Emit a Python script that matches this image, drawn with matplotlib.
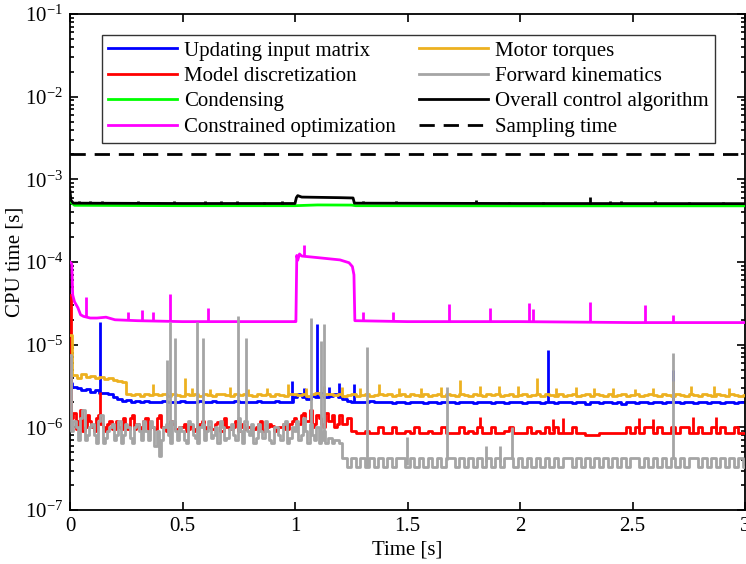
import matplotlib
matplotlib.use("Agg")
import matplotlib.pyplot as plt
import numpy as np
from matplotlib.ticker import LogLocator, LogFormatterMathtext, NullFormatter

plt.rcParams["font.family"] = "Liberation Serif"
plt.rcParams["mathtext.fontset"] = "custom"
plt.rcParams["mathtext.rm"] = "Liberation Serif"
plt.rcParams["mathtext.it"] = "Liberation Serif:italic"
plt.rcParams["font.size"] = 15

# sample instants of the dense series [s], one every 20 ms
t_grid = np.round(np.arange(0, 3.0001, 0.02), 2)
# extra in-between samples for the noisy start (0.01 ... 1.19 s)
t_mid = np.round(np.arange(0.01, 1.2, 0.02), 2)

# CPU times in microseconds
update_input = [
    3.4, 3.1, 3.0, 2.8, 2.9, 2.7, 2.8, 2.6, 2.6, 2.5,
    2.3, 2.2, 2.1, 2.15, 2.05, 2.1, 2.0, 2.1, 2.05, 2.0,
    2.05, 2.1, 2.0, 2.05, 2.0, 2.1, 2.05, 2.0, 2.05, 2.1,
    2.0, 2.05, 2.1, 2.0, 2.05, 2.0, 2.05, 2.1, 2.0, 2.05,
    2.05, 2.0, 2.1, 2.05, 2.0, 2.05, 2.1, 2.0, 2.05, 2.0,
    2.3, 2.5, 2.3, 2.2, 2.4, 2.3, 2.6, 2.3, 2.4, 2.5,
    2.3, 2.2, 2.1, 2.05, 2.0, 2.05, 2.0, 2.1, 2.0, 2.05,
    2.0, 2.05, 1.95, 2.05, 2.0, 1.95, 2.05, 2.0, 2.0, 1.95,
    2.05, 2.0, 1.95, 2.05, 2.0, 2.0, 1.95, 2.05, 2.0, 2.0,
    1.95, 2.05, 2.0, 2.0, 1.95, 2.05, 2.0, 1.95, 2.0, 2.05,
    2.0, 1.95, 2.05, 2.0, 2.0, 1.95, 2.05, 2.0, 1.95, 2.0,
    2.05, 2.0, 1.95, 2.0, 2.05, 1.9, 2.0, 2.05, 1.95, 2.0,
    2.0, 1.95, 2.05, 1.9, 2.0, 2.0, 1.95, 2.05, 2.0, 1.95,
    2.05, 2.0, 1.95, 2.0, 2.05, 2.0, 1.95, 2.0, 2.05, 1.95,
    2.0, 2.05, 1.95, 2.0, 2.0, 1.95, 2.05, 2.0, 1.95, 2.0,
    2.0]
update_spike_t = [0.133, 0.985, 1.04, 1.096, 1.15, 1.197, 1.262, 2.123, 2.68]
update_spike_v = [19, 3.6, 3.0, 18, 3.1, 3.4, 3.3, 8.6, 5.0]

model_disc = [
    40, 1.5, 1.2, 0.9, 1.4, 1.0, 1.3, 1.1, 0.9, 1.2,
    0.95, 1.0, 1.3, 0.95, 1.4, 1.1, 0.95, 1.3, 1.0, 0.95,
    1.4, 1.0, 0.95, 1.1, 0.95, 1.0, 0.9, 1.05, 0.95, 1.1,
    0.95, 1.0, 0.95, 1.15, 0.9, 1.0, 0.95, 1.2, 1.0, 0.95,
    1.0, 0.95, 1.1, 0.9, 1.0, 1.05, 0.95, 1.0, 0.95, 1.1,
    1.3, 1.1, 1.5, 1.2, 1.0, 1.4, 1.1, 1.5, 1.2, 1.0,
    1.4, 1.1, 1.3, 0.9, 0.85, 0.85, 0.9, 0.85, 0.85, 1.0,
    0.85, 0.85, 1.0, 0.85, 0.85, 0.9, 0.85, 1.0, 0.85, 0.85,
    0.9, 0.85, 0.85, 1.0, 0.85, 0.85, 0.85, 1.0, 0.85, 0.9,
    0.85, 1.0, 0.85, 0.85, 1.0, 0.85, 0.85, 0.9, 1.0, 0.85,
    0.85, 0.85, 1.0, 0.85, 0.9, 0.85, 1.0, 0.85, 1.0, 0.85,
    0.85, 0.85, 1.0, 0.85, 0.85, 0.8, 0.8, 0.8, 0.85, 0.85,
    0.85, 0.85, 0.85, 0.85, 1.0, 0.85, 1.0, 0.85, 1.0, 1.0,
    0.85, 1.0, 0.85, 0.85, 1.0, 0.85, 1.0, 1.0, 0.85, 0.85,
    1.0, 0.85, 0.85, 1.0, 0.85, 1.0, 0.85, 0.85, 1.0, 0.85,
    0.85]
model_disc_mid = [
    1.3, 0.95, 1.6, 1.0, 1.2, 0.9, 1.4, 1.0, 1.1, 0.95,
    1.2, 0.95, 1.0, 1.3, 0.95, 1.0, 1.2, 0.95, 1.0, 1.3,
    1.0, 0.9, 1.2, 0.95, 1.0, 1.1, 0.95, 0.9, 1.0, 1.2,
    1.0, 0.95, 1.1, 0.9, 1.3, 0.95, 1.0, 0.9, 1.1, 1.0,
    0.95, 1.0, 1.2, 0.95, 1.1, 0.9, 1.0, 1.1, 0.95, 1.2,
    1.1, 1.4, 1.2, 1.6, 1.1, 1.3, 1.0, 1.2, 1.4, 1.1]
model_spike_t = [0.133, 1.822, 2.148, 2.19, 2.53, 2.59, 2.77, 2.87]
model_spike_v = [2.7, 1.35, 1.25, 1.3, 1.3, 1.25, 1.35, 1.35]

motor_torques = [
    13, 4.3, 4.0, 4.4, 4.1, 4.2, 3.9, 4.1, 3.8, 3.9,
    3.7, 3.6, 3.5, 2.5, 2.45, 2.5, 2.4, 2.55, 2.45, 2.5,
    2.45, 2.5, 2.4, 2.55, 2.45, 2.4, 2.5, 2.45, 2.55, 2.4,
    2.5, 2.45, 2.4, 2.5, 2.55, 2.45, 2.4, 2.5, 2.45, 2.5,
    2.45, 2.4, 2.5, 2.45, 2.55, 2.4, 2.5, 2.45, 2.4, 2.5,
    2.5, 2.45, 2.55, 2.4, 2.5, 2.6, 2.45, 2.5, 2.55, 2.45,
    2.5, 2.4, 2.45, 2.5, 2.4, 2.45, 2.5, 2.4, 2.45, 2.55,
    2.45, 2.5, 2.4, 2.45, 2.55, 2.4, 2.5, 2.45, 2.4, 2.5,
    2.4, 2.45, 2.5, 2.4, 2.55, 2.45, 2.4, 2.5, 2.45, 2.4,
    2.5, 2.45, 2.4, 2.5, 2.45, 2.55, 2.4, 2.45, 2.5, 2.4,
    2.45, 2.5, 2.4, 2.45, 2.5, 2.4, 2.55, 2.45, 2.4, 2.5,
    2.4, 2.45, 2.5, 2.4, 2.45, 2.5, 2.4, 2.5, 2.45, 2.4,
    2.5, 2.4, 2.45, 2.55, 2.4, 2.45, 2.5, 2.4, 2.45, 2.5,
    2.45, 2.4, 2.5, 2.45, 2.4, 2.55, 2.45, 2.4, 2.5, 2.45,
    2.4, 2.5, 2.45, 2.4, 2.5, 2.45, 2.4, 2.5, 2.45, 2.4,
    2.45]
motor_spike_t = [0.37, 0.51, 0.54, 0.62, 0.71, 0.79, 0.874, 0.97, 1.05, 1.13,
                 1.21, 1.29, 1.373, 1.46, 1.56, 1.647, 1.735, 1.822, 1.905, 1.992,
                 2.075, 2.16, 2.25, 2.33, 2.415, 2.51, 2.59, 2.68, 2.762, 2.86, 2.93]
motor_spike_v = [3.3, 4.0, 3.0, 2.9, 3.1, 2.9, 3.0, 3.3, 3.0, 3.2,
                 3.1, 3.0, 3.3, 3.0, 3.0, 3.1, 3.7, 3.2, 3.2, 3.2,
                 3.9, 3.0, 3.1, 3.0, 3.0, 2.9, 3.0, 3.6, 3.2, 3.2, 3.0]

forward_kin = [
    7.5, 1.2, 0.7, 1.6, 0.8, 1.1, 0.65, 1.4, 0.75, 1.0,
    0.7, 1.2, 0.8, 1.0, 0.65, 1.1, 0.7, 0.9, 1.2, 0.6,
    0.45, 1.0, 0.8, 1.2, 0.7, 0.9, 0.65, 1.1, 0.75, 1.0,
    0.7, 1.2, 0.8, 0.65, 1.0, 0.75, 1.1, 0.7, 0.9, 1.2,
    0.8, 0.65, 1.1, 0.75, 0.9, 0.65, 1.0, 0.7, 1.2, 0.75,
    0.9, 0.7, 1.3, 0.65, 0.8, 1.0, 0.7, 0.65, 0.75, 0.7,
    0.65, 0.43, 0.33, 0.43, 0.33, 0.43, 0.33, 0.43, 0.33, 0.43,
    0.33, 0.43, 0.33, 0.43, 0.43, 0.33, 0.43, 0.33, 0.43, 0.33,
    0.43, 0.33, 0.43, 0.33, 0.43, 0.43, 0.33, 0.43, 0.33, 0.43,
    0.33, 0.43, 0.33, 0.43, 0.33, 0.43, 0.33, 0.43, 0.43, 0.33,
    0.43, 0.33, 0.43, 0.33, 0.43, 0.33, 0.43, 0.33, 0.43, 0.33,
    0.43, 0.43, 0.33, 0.43, 0.33, 0.43, 0.33, 0.43, 0.33, 0.43,
    0.33, 0.43, 0.33, 0.43, 0.33, 0.43, 0.43, 0.33, 0.43, 0.33,
    0.43, 0.33, 0.43, 0.33, 0.43, 0.33, 0.43, 0.33, 0.43, 0.43,
    0.33, 0.43, 0.33, 0.43, 0.33, 0.43, 0.33, 0.43, 0.33, 0.43,
    0.33]
forward_kin_mid = [
    0.9, 1.0, 1.3, 0.7, 1.0, 0.8, 1.2, 0.65, 0.9, 1.1,
    0.8, 0.65, 1.1, 0.75, 1.0, 0.9, 1.2, 0.7, 1.0, 0.9,
    0.7, 1.1, 0.65, 0.9, 1.0, 0.7, 1.2, 0.8, 0.65, 1.1,
    0.9, 0.75, 1.0, 1.2, 0.7, 0.95, 0.8, 1.3, 0.65, 0.9,
    1.1, 0.75, 0.9, 1.2, 0.7, 1.0, 0.8, 1.1, 0.65, 1.0,
    1.2, 0.8, 0.9, 1.1, 0.7, 0.65, 0.9, 0.75, 0.65, 0.7]
kin_spike_t = [0.43, 0.443, 0.467, 0.563, 0.593, 0.748, 0.781, 1.071, 1.114,
               1.129, 1.321, 1.496, 1.674, 1.85, 1.91, 1.964, 2.68]
kin_spike_v = [6.5, 19, 12, 19, 12, 22, 12, 21, 11,
               18, 9.3, 0.77, 3.1, 0.6, 0.6, 1.0, 8.0]

# slowly varying series: breakpoints [s] and values [us]
cond_t = [0, 0.004, 0.02, 0.5, 1.0, 1.1, 1.25, 1.27, 2.0, 3.0]
condensing = [620, 530, 485, 480, 480, 490, 488, 480, 478, 478]

opt_t = [0, 0.008, 0.012, 0.02, 0.035, 0.047, 0.06, 0.09, 0.12, 0.16, 0.2, 0.3,
         0.5, 1.0, 1.004, 1.008, 1.012, 1.02, 1.03, 1.1, 1.2, 1.24, 1.255,
         1.262, 1.266, 1.5, 2.0, 2.5, 3.0]
constrained_opt = [100, 95, 40, 33, 28, 23, 22, 21, 21, 21.5, 20, 19.5,
                   19, 19, 19, 120, 105, 125, 118, 113, 106, 98, 88,
                   70, 19.5, 19, 19, 18.5, 18.5]
opt_spike_t = [0.071, 0.256, 0.318, 0.37, 0.444, 0.615, 1.041, 1.30, 1.434,
               1.686, 1.866, 2.041, 2.059, 2.311, 2.556, 2.68]
opt_spike_v = [38, 25, 26, 25, 41, 28, 160, 25, 25,
               31, 28, 32, 27, 33, 30, 23]

overall_t = [0, 0.004, 0.015, 0.5, 1.0, 1.006, 1.012, 1.03, 1.2, 1.258,
             1.264, 2.0, 3.0]
overall = [720, 560, 515, 510, 510, 600, 635, 610, 600, 595, 515, 510, 508]
overall_spike_t = [0.04, 0.09, 0.14, 0.3, 0.39, 0.46, 0.6, 0.67, 0.74, 0.86,
                   0.94, 1.3, 1.45, 1.6, 1.804, 1.95, 2.1, 2.311, 2.4, 2.45,
                   2.6, 2.75, 2.9]
overall_spike_v = [545, 540, 540, 545, 535, 550, 540, 540, 545, 535,
                   540, 540, 540, 535, 560, 535, 535, 610, 540, 540,
                   545, 535, 535]

sampling_t = [0, 3]
sampling = [2000, 2000]

US = 1e-6
LW = 2.0

fig = plt.figure(figsize=(7.46, 5.64), dpi=100)
ax = fig.add_axes([70 / 746, 54 / 564, 675 / 746, 496 / 564])


def merge(t_a, v_a, t_b, v_b):
    t = np.concatenate([t_a, t_b])
    v = np.concatenate([v_a, v_b])
    order = np.argsort(t, kind="stable")
    return t[order], v[order]


def draw(t, vals, color, label, z, spike_t=None, spike_v=None, steps=True):
    t = np.asarray(t, float)
    v = np.asarray(vals, float) * US
    ax.plot(t, v, color=color, lw=LW, label=label, zorder=z,
            drawstyle="steps-mid" if steps else "default")
    if spike_t is not None:
        st = np.asarray(spike_t, float)
        base = np.interp(st, t, v)
        ax.vlines(st, base, np.asarray(spike_v, float) * US, colors=color,
                  lw=LW, zorder=z)


red_t, red_v = merge(t_grid, model_disc, t_mid, model_disc_mid)
gray_t, gray_v = merge(t_grid, forward_kin, t_mid, forward_kin_mid)

draw(t_grid, update_input, (0, 0, 1), "Updating input matrix", 2,
     update_spike_t, update_spike_v)
draw(red_t, red_v, (1, 0, 0), "Model discretization", 3,
     model_spike_t, model_spike_v)
draw(cond_t, condensing, (0, 1, 0), "Condensing", 4, steps=False)
draw(opt_t, constrained_opt, (1, 0, 1), "Constrained optimization", 5,
     opt_spike_t, opt_spike_v, steps=False)
draw(t_grid, motor_torques, "#EDB120", "Motor torques", 6,
     motor_spike_t, motor_spike_v)
draw(gray_t, gray_v, "#A5A5A5", "Forward kinematics", 7,
     kin_spike_t, kin_spike_v)
draw(overall_t, overall, "black", "Overall control algorithm", 8,
     overall_spike_t, overall_spike_v, steps=False)
ax.plot(sampling_t, np.asarray(sampling) * US, color="black", lw=LW,
        dashes=(5.5, 3.2), label="Sampling time", zorder=9)

ax.set_yscale("log")
ax.set_xlim(0, 3)
ax.set_ylim(1e-7, 1e-1)
ax.set_xticks([0, 0.5, 1, 1.5, 2, 2.5, 3])
ax.set_xticklabels(["0", "0.5", "1", "1.5", "2", "2.5", "3"])
ax.yaxis.set_major_locator(LogLocator(base=10, numticks=10))
ax.yaxis.set_major_formatter(LogFormatterMathtext())
ax.yaxis.set_minor_locator(LogLocator(base=10, subs=np.arange(2, 10), numticks=20))
ax.yaxis.set_minor_formatter(NullFormatter())
ax.tick_params(which="both", direction="in", top=True, right=True, width=1.2)
ax.tick_params(which="major", length=6, pad=5, labelsize=15)
ax.tick_params(which="minor", length=3)
for s in ax.spines.values():
    s.set_linewidth(1.3)

ax.set_xlabel("Time [s]", fontsize=15, labelpad=3)
ax.set_ylabel("CPU time [s]", fontsize=15, labelpad=0)

leg = ax.legend(ncol=2, loc="upper left", bbox_to_anchor=(0.047, 0.958),
                borderaxespad=0, frameon=True, fancybox=False, edgecolor="black",
                handlelength=3.3, handletextpad=0.35, columnspacing=1.1,
                labelspacing=0.28, borderpad=0.3, fontsize=15)
leg.get_frame().set_linewidth(1.0)

fig.savefig("out.png", dpi=100)
